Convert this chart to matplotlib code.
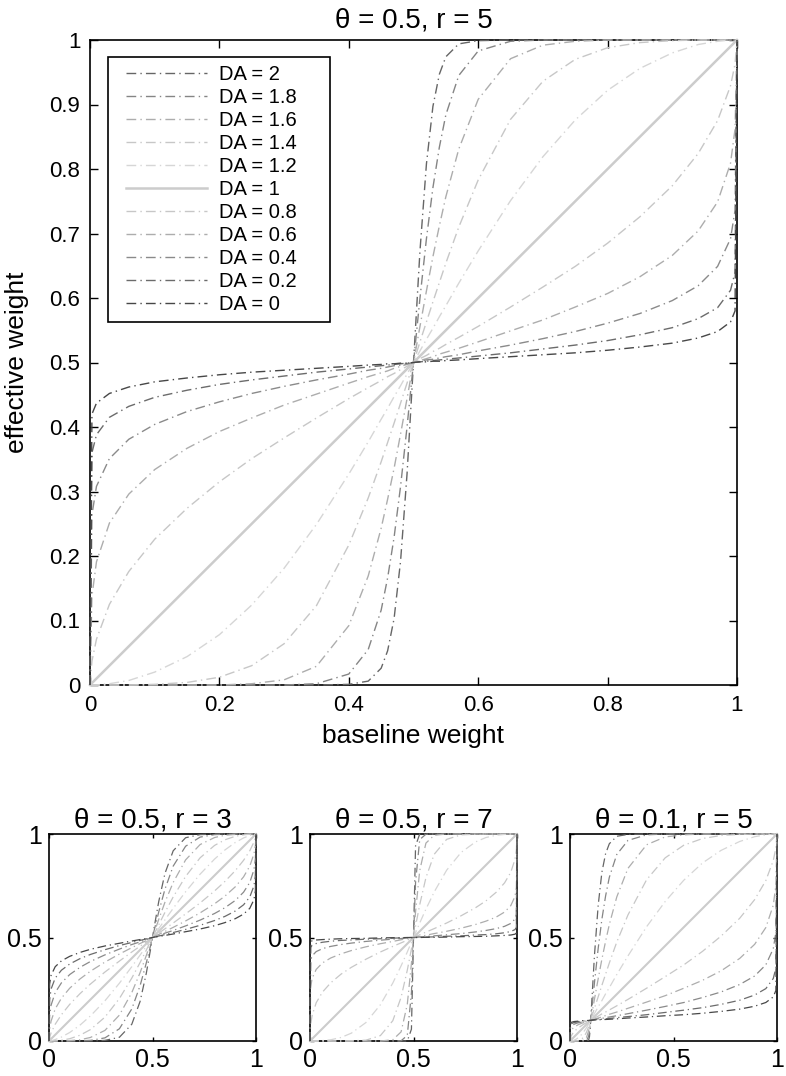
import matplotlib
matplotlib.use('Agg')
import matplotlib.pyplot as plt
from matplotlib.patches import Rectangle

plt.rcParams['font.family'] = ['Liberation Sans', 'DejaVu Sans']

# legend order (same as drawing order)
da_labels = ['DA = 2', 'DA = 1.8', 'DA = 1.6', 'DA = 1.4', 'DA = 1.2', 'DA = 1',
             'DA = 0.8', 'DA = 0.6', 'DA = 0.4', 'DA = 0.2', 'DA = 0']

titles = ['\u03b8 = 0.5, r = 5', '\u03b8 = 0.5, r = 3', '\u03b8 = 0.5, r = 7', '\u03b8 = 0.1, r = 5']

main_xticks = [0, 0.2, 0.4, 0.6, 0.8, 1]
main_xticklabels = ['0', '0.2', '0.4', '0.6', '0.8', '1']
main_yticks = [0, 0.1, 0.2, 0.3, 0.4, 0.5, 0.6, 0.7, 0.8, 0.9, 1]
main_yticklabels = ['0', '0.1', '0.2', '0.3', '0.4', '0.5', '0.6', '0.7', '0.8', '0.9', '1']
small_ticks = [0, 0.5, 1]
small_ticklabels = ['0', '0.5', '1']

# DA = 1 is the diagonal in every panel
diag_x = [0, 1]
diag_y = [0, 1]

# ---- theta = 0.5, r = 5 (big panel) ----
x_main = [0, 0.003, 0.01, 0.03, 0.06, 0.1, 0.15, 0.2, 0.25, 0.3, 0.35, 0.4, 0.43, 0.45, 0.46, 0.47,
          0.48, 0.49, 0.5, 0.51, 0.52, 0.53, 0.54, 0.55, 0.57, 0.6, 0.65, 0.7, 0.75, 0.8, 0.85,
          0.9, 0.94, 0.97, 0.99, 0.997, 1]
main_da0 = [0, 0.420, 0.437, 0.452, 0.462, 0.470, 0.476, 0.481, 0.485, 0.488, 0.491, 0.494, 0.496,
            0.497, 0.498, 0.498, 0.499, 0.499, 0.5, 0.501, 0.501, 0.502, 0.502, 0.503, 0.504, 0.506,
            0.509, 0.512, 0.515, 0.519, 0.524, 0.530, 0.538, 0.548, 0.563, 0.580, 1]
main_da02 = [0, 0.360, 0.388, 0.415, 0.432, 0.446, 0.457, 0.466, 0.473, 0.479, 0.485, 0.490, 0.493,
             0.495, 0.496, 0.497, 0.498, 0.499, 0.5, 0.501, 0.502, 0.503, 0.504, 0.505, 0.507, 0.510,
             0.515, 0.521, 0.527, 0.534, 0.543, 0.554, 0.568, 0.585, 0.612, 0.640, 1]
main_da04 = [0, 0.264, 0.308, 0.351, 0.381, 0.404, 0.424, 0.439, 0.452, 0.463, 0.473, 0.482, 0.488,
             0.491, 0.493, 0.495, 0.496, 0.498, 0.5, 0.502, 0.504, 0.505, 0.507, 0.509, 0.512, 0.518,
             0.527, 0.537, 0.548, 0.561, 0.576, 0.596, 0.619, 0.649, 0.692, 0.736, 1]
main_da06 = [0, 0.138, 0.191, 0.251, 0.296, 0.334, 0.367, 0.393, 0.414, 0.434, 0.451, 0.468, 0.478,
             0.484, 0.487, 0.491, 0.494, 0.497, 0.5, 0.503, 0.506, 0.509, 0.513, 0.516, 0.522, 0.532,
             0.549, 0.566, 0.586, 0.607, 0.633, 0.666, 0.704, 0.749, 0.809, 0.862, 1]
main_da08 = [0, 0.037, 0.071, 0.125, 0.176, 0.226, 0.274, 0.315, 0.351, 0.383, 0.414, 0.444, 0.461,
             0.472, 0.478, 0.483, 0.489, 0.494, 0.5, 0.506, 0.511, 0.517, 0.522, 0.528, 0.539, 0.556,
             0.586, 0.617, 0.649, 0.685, 0.726, 0.774, 0.824, 0.875, 0.929, 0.963, 1]
main_da12 = [0, 0.000, 0.000, 0.002, 0.007, 0.020, 0.044, 0.078, 0.124, 0.181, 0.249, 0.327, 0.377,
             0.412, 0.429, 0.447, 0.464, 0.482, 0.5, 0.518, 0.536, 0.553, 0.571, 0.588, 0.623, 0.673,
             0.751, 0.819, 0.876, 0.922, 0.956, 0.980, 0.993, 0.998, 1.000, 1.000, 1]
main_da14 = [0, 0, 0, 0, 0, 0.001, 0.004, 0.012, 0.030, 0.064, 0.123, 0.217, 0.290, 0.346, 0.376,
             0.406, 0.437, 0.468, 0.5, 0.532, 0.563, 0.594, 0.624, 0.654, 0.710, 0.783, 0.877, 0.936,
             0.970, 0.988, 0.996, 0.999, 1, 1, 1, 1, 1]
main_da16 = [0, 0, 0, 0, 0, 0, 0, 0.000, 0.002, 0.008, 0.029, 0.092, 0.169, 0.243, 0.288, 0.336,
             0.389, 0.444, 0.5, 0.556, 0.611, 0.664, 0.712, 0.757, 0.831, 0.908, 0.971, 0.992, 0.998,
             1, 1, 1, 1, 1, 1, 1, 1]
main_da18 = [0, 0, 0, 0, 0, 0, 0, 0, 0, 0.000, 0.002, 0.017, 0.055, 0.116, 0.166, 0.229, 0.308, 0.400,
             0.5, 0.600, 0.692, 0.771, 0.834, 0.884, 0.945, 0.983, 0.998, 1.000, 1, 1, 1, 1, 1, 1, 1,
             1, 1]
main_da2 = [0, 0, 0, 0, 0, 0, 0, 0, 0, 0, 0, 0.001, 0.006, 0.026, 0.053, 0.103, 0.192, 0.327, 0.5,
            0.673, 0.808, 0.897, 0.947, 0.974, 0.994, 0.999, 1, 1, 1, 1, 1, 1, 1, 1, 1, 1, 1]

# ---- small panels with theta = 0.5 ----
x_small = [0, 0.003, 0.01, 0.03, 0.06, 0.1, 0.15, 0.2, 0.27, 0.34, 0.4, 0.44, 0.47, 0.49, 0.5, 0.51,
           0.53, 0.56, 0.6, 0.66, 0.73, 0.8, 0.85, 0.9, 0.94, 0.97, 0.99, 0.997, 1]

# r = 3
r3_da0 = [0, 0.275, 0.317, 0.359, 0.387, 0.409, 0.428, 0.443, 0.459, 0.472, 0.483, 0.490, 0.495, 0.498,
          0.5, 0.502, 0.505, 0.510, 0.517, 0.528, 0.541, 0.557, 0.572, 0.591, 0.613, 0.641, 0.683,
          0.725, 1]
r3_da02 = [0, 0.200, 0.251, 0.304, 0.342, 0.372, 0.398, 0.418, 0.441, 0.461, 0.476, 0.486, 0.493,
           0.498, 0.5, 0.502, 0.507, 0.514, 0.524, 0.539, 0.559, 0.582, 0.602, 0.628, 0.658, 0.696,
           0.749, 0.800, 1]
r3_da04 = [0, 0.121, 0.173, 0.234, 0.281, 0.321, 0.356, 0.384, 0.416, 0.444, 0.466, 0.479, 0.490,
           0.497, 0.5, 0.503, 0.510, 0.521, 0.534, 0.556, 0.584, 0.616, 0.644, 0.679, 0.719, 0.766,
           0.827, 0.879, 1]
r3_da06 = [0, 0.056, 0.096, 0.155, 0.207, 0.255, 0.300, 0.337, 0.381, 0.420, 0.451, 0.471, 0.485,
           0.495, 0.5, 0.505, 0.515, 0.529, 0.549, 0.580, 0.619, 0.663, 0.700, 0.745, 0.793, 0.845,
           0.904, 0.944, 1]
r3_da08 = [0, 0.017, 0.039, 0.081, 0.127, 0.177, 0.229, 0.275, 0.333, 0.386, 0.430, 0.458, 0.479,
           0.493, 0.5, 0.507, 0.521, 0.542, 0.570, 0.614, 0.667, 0.725, 0.771, 0.823, 0.873, 0.919,
           0.961, 0.983, 1]
r3_da12 = [0, 0.000, 0.001, 0.007, 0.019, 0.041, 0.077, 0.121, 0.194, 0.279, 0.359, 0.415, 0.457,
           0.486, 0.5, 0.514, 0.543, 0.585, 0.641, 0.721, 0.806, 0.879, 0.923, 0.959, 0.981, 0.993,
           0.999, 1.000, 1]
r3_da14 = [0, 0.000, 0.000, 0.001, 0.004, 0.011, 0.028, 0.055, 0.115, 0.205, 0.304, 0.379, 0.439,
           0.480, 0.5, 0.520, 0.561, 0.621, 0.696, 0.795, 0.885, 0.945, 0.972, 0.989, 0.996, 0.999,
           1.000, 1.000, 1]
r3_da16 = [0, 0.000, 0.000, 0.000, 0.000, 0.002, 0.006, 0.017, 0.051, 0.125, 0.234, 0.330, 0.413,
           0.471, 0.5, 0.529, 0.587, 0.670, 0.766, 0.875, 0.949, 0.983, 0.994, 0.998, 1.000, 1.000,
           1.000, 1.000, 1]
r3_da18 = [0, 0, 0, 0, 0, 0, 0.001, 0.003, 0.015, 0.059, 0.155, 0.267, 0.377, 0.458, 0.5, 0.542,
           0.623, 0.733, 0.845, 0.941, 0.985, 0.997, 0.999, 1, 1, 1, 1, 1, 1]
r3_da2 = [0, 0, 0, 0, 0, 0, 0, 0, 0.003, 0.018, 0.081, 0.191, 0.327, 0.440, 0.5, 0.560, 0.673, 0.809,
          0.919, 0.982, 0.997, 1, 1, 1, 1, 1, 1, 1, 1]

# r = 7
r7_da0 = [0, 0.479, 0.484, 0.488, 0.490, 0.492, 0.494, 0.495, 0.496, 0.498, 0.499, 0.499, 0.500, 0.500,
          0.5, 0.500, 0.500, 0.501, 0.501, 0.502, 0.504, 0.505, 0.506, 0.508, 0.510, 0.512, 0.516,
          0.521, 1]
r7_da02 = [0, 0.452, 0.462, 0.471, 0.477, 0.482, 0.486, 0.488, 0.492, 0.494, 0.497, 0.498, 0.499,
           0.500, 0.5, 0.500, 0.501, 0.502, 0.503, 0.506, 0.508, 0.512, 0.514, 0.518, 0.523, 0.529,
           0.538, 0.548, 1]
r7_da04 = [0, 0.388, 0.411, 0.432, 0.446, 0.457, 0.466, 0.473, 0.481, 0.487, 0.492, 0.495, 0.498,
           0.499, 0.5, 0.501, 0.502, 0.505, 0.508, 0.513, 0.519, 0.527, 0.534, 0.543, 0.554, 0.568,
           0.589, 0.612, 1]
r7_da06 = [0, 0.257, 0.302, 0.346, 0.377, 0.401, 0.421, 0.437, 0.455, 0.470, 0.481, 0.489, 0.495,
           0.498, 0.5, 0.502, 0.505, 0.511, 0.519, 0.530, 0.545, 0.563, 0.579, 0.599, 0.623, 0.654,
           0.698, 0.743, 1]
r7_da08 = [0, 0.077, 0.123, 0.185, 0.236, 0.281, 0.323, 0.356, 0.395, 0.430, 0.457, 0.474, 0.487,
           0.496, 0.5, 0.504, 0.513, 0.526, 0.543, 0.570, 0.605, 0.644, 0.677, 0.719, 0.764, 0.815,
           0.877, 0.923, 1]
r7_da12 = [0, 0.000, 0.000, 0.000, 0.002, 0.006, 0.017, 0.038, 0.089, 0.175, 0.280, 0.363, 0.430,
           0.477, 0.5, 0.523, 0.570, 0.637, 0.720, 0.825, 0.911, 0.962, 0.983, 0.994, 0.998, 1.000,
           1.000, 1.000, 1]
r7_da14 = [0, 0, 0, 0, 0, 0, 0, 0.001, 0.004, 0.026, 0.098, 0.211, 0.342, 0.445, 0.5, 0.555, 0.658,
           0.789, 0.902, 0.974, 0.996, 0.999, 1, 1, 1, 1, 1, 1, 1]
r7_da16 = [0, 0, 0, 0, 0, 0, 0, 0, 0, 0.000, 0.006, 0.044, 0.177, 0.375, 0.5, 0.625, 0.823, 0.956,
           0.994, 1, 1, 1, 1, 1, 1, 1, 1, 1, 1]
r7_da18 = [0, 0, 0, 0, 0, 0, 0, 0, 0, 0, 0.000, 0.001, 0.027, 0.232, 0.5, 0.768, 0.973, 0.999, 1, 1,
           1, 1, 1, 1, 1, 1, 1, 1, 1]
r7_da2 = [0, 0, 0, 0, 0, 0, 0, 0, 0, 0, 0, 0, 0, 0.057, 0.5, 0.943, 1, 1, 1, 1, 1, 1, 1, 1, 1, 1, 1,
          1, 1]

# ---- theta = 0.1, r = 5 ----
x_t01 = [0, 0.002, 0.006, 0.012, 0.02, 0.03, 0.04, 0.05, 0.06, 0.07, 0.08, 0.09, 0.094, 0.098, 0.1,
         0.118, 0.136, 0.154, 0.172, 0.19, 0.226, 0.28, 0.37, 0.46, 0.55, 0.64, 0.73, 0.82, 0.892,
         0.946, 0.982, 0.9946, 1]
t01_da0 = [0, 0.087, 0.090, 0.092, 0.094, 0.095, 0.096, 0.097, 0.098, 0.098, 0.099, 0.099, 0.100,
           0.100, 0.1, 0.102, 0.102, 0.104, 0.104, 0.105, 0.107, 0.111, 0.116, 0.122, 0.127, 0.134,
           0.143, 0.154, 0.168, 0.186, 0.213, 0.244, 1]
t01_da02 = [0, 0.078, 0.083, 0.086, 0.089, 0.091, 0.093, 0.095, 0.096, 0.097, 0.098, 0.099, 0.099,
            0.100, 0.1, 0.102, 0.104, 0.105, 0.107, 0.109, 0.113, 0.118, 0.127, 0.138, 0.149, 0.161,
            0.177, 0.197, 0.222, 0.253, 0.302, 0.352, 1]
t01_da04 = [0, 0.062, 0.070, 0.076, 0.081, 0.085, 0.088, 0.090, 0.093, 0.095, 0.096, 0.098, 0.099,
            0.100, 0.1, 0.104, 0.107, 0.109, 0.113, 0.116, 0.122, 0.132, 0.149, 0.167, 0.186, 0.210,
            0.237, 0.273, 0.314, 0.368, 0.446, 0.525, 1]
t01_da06 = [0, 0.038, 0.050, 0.059, 0.067, 0.073, 0.079, 0.083, 0.087, 0.090, 0.094, 0.097, 0.098,
            0.099, 0.1, 0.105, 0.111, 0.116, 0.123, 0.129, 0.140, 0.158, 0.188, 0.219, 0.255, 0.293,
            0.339, 0.399, 0.467, 0.548, 0.656, 0.752, 1]
t01_da08 = [0, 0.014, 0.025, 0.035, 0.045, 0.055, 0.063, 0.070, 0.077, 0.083, 0.089, 0.094, 0.097,
            0.099, 0.1, 0.111, 0.120, 0.131, 0.140, 0.150, 0.170, 0.201, 0.255, 0.311, 0.368, 0.433,
            0.507, 0.593, 0.683, 0.775, 0.872, 0.933, 1]
t01_da12 = [0, 0.000, 0.000, 0.001, 0.004, 0.009, 0.016, 0.025, 0.036, 0.050, 0.065, 0.082, 0.089,
            0.096, 0.1, 0.132, 0.165, 0.195, 0.228, 0.258, 0.321, 0.411, 0.552, 0.674, 0.777, 0.860,
            0.921, 0.964, 0.987, 0.996, 1.000, 1.000, 1]
t01_da14 = [0, 0, 0, 0, 0.000, 0.001, 0.002, 0.006, 0.013, 0.025, 0.043, 0.069, 0.081, 0.094, 0.1,
            0.158, 0.213, 0.269, 0.323, 0.377, 0.478, 0.609, 0.779, 0.885, 0.946, 0.978, 0.993, 0.998,
            1, 1, 1, 1, 1]
t01_da16 = [0, 0, 0, 0, 0, 0, 0, 0.000, 0.002, 0.006, 0.018, 0.049, 0.067, 0.089, 0.1, 0.201, 0.300,
            0.395, 0.482, 0.563, 0.696, 0.834, 0.948, 0.986, 0.996, 1, 1, 1, 1, 1, 1, 1, 1]
t01_da18 = [0, 0, 0, 0, 0, 0, 0, 0, 0, 0.000, 0.003, 0.023, 0.046, 0.080, 0.1, 0.280, 0.446, 0.588,
            0.701, 0.791, 0.901, 0.969, 0.996, 1, 1, 1, 1, 1, 1, 1, 1, 1, 1]
t01_da2 = [0, 0, 0, 0, 0, 0, 0, 0, 0, 0, 0.000, 0.005, 0.021, 0.065, 0.1, 0.411, 0.654, 0.815, 0.905,
           0.953, 0.989, 0.998, 1, 1, 1, 1, 1, 1, 1, 1, 1, 1, 1]

# grey level per curve (same order as da_labels)
greys = [0.40, 0.52, 0.68, 0.78, 0.84, 0.80, 0.78, 0.68, 0.54, 0.42, 0.28]
dashdot = (0, (7, 3, 1, 3))


def curves(x, ys):
    # ys in DA order 2 ... 0, DA = 1 (diagonal) slotted in the middle
    out = []
    for i, y in enumerate(ys):
        if i == 5:
            out.append((diag_x, diag_y))
        out.append((x, y))
    return out


panels = [
    curves(x_main, [main_da2, main_da18, main_da16, main_da14, main_da12,
                    main_da08, main_da06, main_da04, main_da02, main_da0]),
    curves(x_small, [r3_da2, r3_da18, r3_da16, r3_da14, r3_da12,
                     r3_da08, r3_da06, r3_da04, r3_da02, r3_da0]),
    curves(x_small, [r7_da2, r7_da18, r7_da16, r7_da14, r7_da12,
                     r7_da08, r7_da06, r7_da04, r7_da02, r7_da0]),
    curves(x_t01, [t01_da2, t01_da18, t01_da16, t01_da14, t01_da12,
                   t01_da08, t01_da06, t01_da04, t01_da02, t01_da0]),
]

W, H = 786, 1076
fig = plt.figure(figsize=(W / 100, H / 100), dpi=100)


def px_axes(left, top, right, bottom):
    return fig.add_axes([left / W, 1 - bottom / H, (right - left) / W, (bottom - top) / H])


ax_main = px_axes(90, 40, 737, 685)
ax_small = [px_axes(49, 834, 256, 1041), px_axes(310, 834, 517, 1041), px_axes(570, 834, 777, 1041)]


def draw(ax, data, lw, solid_lw):
    lines = []
    for i, (x, y) in enumerate(data):
        g = str(greys[i])
        if i == 5:
            ln, = ax.plot(x, y, color=g, lw=solid_lw, ls='-', clip_on=False, zorder=3)
        else:
            ln, = ax.plot(x, y, color=g, lw=lw, ls=dashdot, clip_on=False, zorder=3)
        lines.append(ln)
    ax.set_xlim(0, 1)
    ax.set_ylim(0, 1)
    for s in ax.spines.values():
        s.set_linewidth(1.2)
    return lines


main_lines = draw(ax_main, panels[0], 1.0, 1.8)
ax_main.set_xticks(main_xticks)
ax_main.set_xticklabels(main_xticklabels)
ax_main.set_yticks(main_yticks)
ax_main.set_yticklabels(main_yticklabels)
ax_main.tick_params(direction='in', top=True, right=True, length=6, width=1, labelsize=16, pad=7)
ax_main.set_title(titles[0], fontsize=20, pad=9)
ax_main.set_xlabel('baseline weight', fontsize=19, labelpad=6)
ax_main.set_ylabel('effective weight', fontsize=19)
ax_main.yaxis.set_label_coords(-0.094, 0.5)

# legend box drawn by hand (MATLAB leaves extra room on the right)
box = Rectangle((108 / W, 1 - 322 / H), 222 / W, 265 / H, transform=fig.transFigure,
                facecolor='white', edgecolor='black', lw=1.2, zorder=4)
ax_main.add_patch(box)
box.set_clip_on(False)
leg = ax_main.legend(main_lines, da_labels, loc='upper left',
                     bbox_to_anchor=(118 / W, 1 - 57 / H), bbox_transform=fig.transFigure,
                     borderaxespad=0, fontsize=14.5, labelspacing=0.2, handlelength=4.0,
                     handletextpad=0.6, borderpad=0.4, frameon=False)
leg.set_zorder(5)

for k, ax in enumerate(ax_small):
    draw(ax, panels[k + 1], 0.9, 1.5)
    ax.set_xticks(small_ticks)
    ax.set_xticklabels(small_ticklabels)
    ax.set_yticks(small_ticks)
    ax.set_yticklabels(small_ticklabels)
    ax.tick_params(direction='in', top=True, right=True, length=3, width=1, labelsize=18, pad=5)
    ax.set_title(titles[k + 1], fontsize=20, pad=5)

fig.savefig('out.png', dpi=100)
